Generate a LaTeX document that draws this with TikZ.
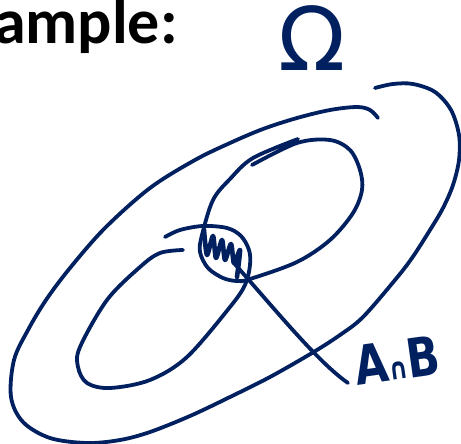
\documentclass[tikz,border=0pt]{standalone}
\usepackage{fontspec}
\setmainfont{Carlito}
\newfontfamily\handfont{DejaVu Sans}
\newfontfamily\narrowhand[FakeStretch=0.8]{DejaVu Sans}
\usepackage{xcolor}
\definecolor{inkblue}{HTML}{002060}
\usetikzlibrary{positioning}
\tikzset{
    % Pen styles
    pen/.style={draw=inkblue, line width=3.8pt, line cap=round, line join=round},
    set curve/.style={pen},
    hatch/.style={pen, line width=4.6pt},
    pointer/.style={pen},
    % Text styles
    hand text/.style={text=inkblue, inner sep=0pt},
}

\begin{document}
\begin{tikzpicture}[x=1pt, y=-1pt]
    \useasboundingbox (0,0) rectangle (461,444);
    \clip (0,0) rectangle (461,444);

    % Title
    \node[anchor=base east, inner sep=0pt, font=\fontsize{64}{66}\selectfont\bfseries] (title) at (178,44) {Example:};

    % Sample space label
    \node[hand text, font=\handfont\fontsize{88}{88}\selectfont] (omega) at (312,38) {Ω};

    % Sample space
    \draw[set curve] plot[smooth, tension=0.55] coordinates {(375,88) (393,84) (413,84) (435,92) (451,110) (459,135) (459,160) (453,185) (443,208) (430,230) (412,258) (395,280) (363,317) (340,335) (312,353) (270,377) (230,397) (190,416) (150,432) (120,440) (87,443) (50,438) (23,422) (11,397) (14,360) (28,330) (46,300) (70,268) (105,228) (150,188) (195,160) (230,143) (263,129) (297,118) (330,110) (357,107) (370,110) (378,118)};

    % Set B
    \draw[set curve] plot[smooth, tension=0.55] coordinates {(252,165) (297,143) (330,140) (350,150) (360,170) (362,190) (353,213) (330,240) (297,262) (250,279) (237,281) (223,278) (208,268) (200,252) (202,235) (213,200) (230,179) (253,158) (298,139)};

    % Set A
    \draw[set curve] plot[smooth, tension=0.55] coordinates {(183,250) (160,253) (140,267) (107,300) (80,347) (78,367) (87,383) (110,388) (150,380) (187,357) (230,307) (245,285) (250,265) (249,250) (241,236) (227,228) (203,226) (180,230) (165,237)};

    % Intersection hatching
    \draw[hatch] plot[smooth, tension=0.45] coordinates {(204,230) (207,255) (213,236) (216,258) (222,240) (225,260) (231,244) (234,263) (240,250) (237,277)};

    % Intersection label and pointer
    \node[hand text, rotate=8, font=\narrowhand\bfseries\fontsize{54}{54}\selectfont] (cap label) at (397,360) {A{\fontsize{30}{30}\selectfont ∩}B};
    \coordinate (lens) at (233,262);
    \coordinate (tip) at (348,383);
    \draw[pointer] (lens) .. controls (280,315) and (318,362) .. (tip);
\end{tikzpicture}
\end{document}
